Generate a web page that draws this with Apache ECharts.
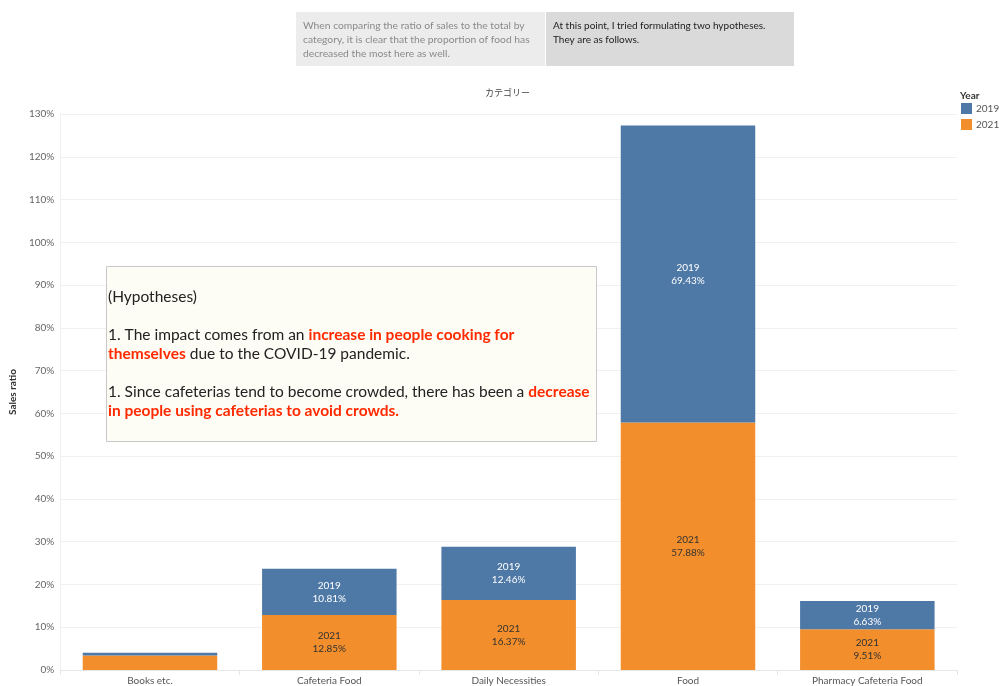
<!DOCTYPE html>
<html><head><meta charset="utf-8">
<script src="https://cdn.jsdelivr.net/npm/echarts@6/dist/echarts.min.js"></script>
<style>html,body{margin:0;padding:0;background:#fff}#c{width:999px;height:686px}</style>
</head><body><div id="c"></div>
<script>
const categories = ['Books etc.', 'Cafeteria Food', 'Daily Necessities', 'Food', 'Pharmacy Cafeteria Food'];
const values2021 = [3.39, 12.85, 16.37, 57.88, 9.51];
const values2019 = [0.67, 10.81, 12.46, 69.43, 6.63];
const yTicks = [0, 130, 10];
const FONT = 'Lato, "Open Sans", sans-serif';

const chart = echarts.init(document.getElementById('c'));
function lbl(year, color) {
  return {
    show: true, position: 'inside', color: color, fontSize: 10, lineHeight: 13, fontFamily: FONT,
    formatter: p => p.dataIndex === 0 ? '' : year + '\n' + p.value.toFixed(2) + '%'
  };
}
chart.setOption({
  animation: false,
  textStyle: {fontFamily: FONT},
  grid: {left: 58, right: 42, top: 114, bottom: 14},
  legend: {
    orient: 'vertical', left: 961, top: 103, padding: 0, itemWidth: 11, itemHeight: 11, itemGap: 5,
    icon: 'rect', data: ['2019', '2021'],
    textStyle: {fontSize: 10, color: '#555', padding: [0, 0, 0, -1]}
  },
  xAxis: {
    type: 'category', data: categories,
    axisLine: {show: true, lineStyle: {color: '#e6e6e6'}},
    axisTick: {show: true, length: 5, lineStyle: {color: '#e6e6e6'}},
    axisLabel: {fontSize: 10, color: '#555', margin: 6}
  },
  yAxis: {
    type: 'value', min: yTicks[0], max: yTicks[1], interval: yTicks[2],
    name: 'Sales ratio', nameLocation: 'middle', nameGap: 40, nameRotate: 90,
    nameTextStyle: {fontSize: 10, fontWeight: 'bold', color: '#333'},
    axisLine: {show: true, lineStyle: {color: '#f0f0f0'}},
    axisTick: {show: false},
    axisLabel: {formatter: '{value}%', fontSize: 10, color: '#666', margin: 6},
    splitLine: {lineStyle: {color: '#f0f0f0'}}
  },
  series: [
    {name: '2021', type: 'bar', stack: 's', data: values2021, barWidth: '75%',
     itemStyle: {color: '#f28e2b'}, label: lbl('2021', '#333')},
    {name: '2019', type: 'bar', stack: 's', data: values2019, barWidth: '75%',
     itemStyle: {color: '#4e79a7'}, label: lbl('2019', '#fff')}
  ],
  graphic: [
    {type: 'rect', z: 100, shape: {x: 296, y: 12, width: 249, height: 54}, style: {fill: '#ececec'}},
    {type: 'rect', z: 100, shape: {x: 546, y: 12, width: 248, height: 54}, style: {fill: '#dadada'}},
    {type: 'text', z: 101, left: 303, top: 19, style: {
      text: 'When comparing the ratio of sales to the total by\ncategory, it is clear that the proportion of food has\ndecreased the most here as well.',
      fontSize: 10.3, lineHeight: 14, fill: '#8a8a8a', fontFamily: FONT}},
    {type: 'text', z: 101, left: 553, top: 19, style: {
      text: 'At this point, I tried formulating two hypotheses.\nThey are as follows.',
      fontSize: 10, lineHeight: 14, fill: '#222', fontFamily: FONT}},
    {type: 'text', z: 101, left: 485, top: 88, style: {text: 'カテゴリー', fontSize: 9, fill: '#444', fontFamily: '"Noto Sans CJK JP", sans-serif'}},
    {type: 'text', z: 101, left: 960, top: 91, style: {text: 'Year', fontSize: 10, fontWeight: 'bold', fill: '#333', fontFamily: FONT}},
    {type: 'rect', z: 100, shape: {x: 106.5, y: 266.5, width: 490, height: 175}, style: {fill: '#fefdf5', stroke: '#c8c8c8', lineWidth: 1}},
    {type: 'text', z: 101, left: 108, top: 289, style: {
      text: '{n|(Hypotheses)}\n{n| }\n{n|1. The impact comes from an }{r|increase in people cooking for}\n{r|themselves}{n| due to the COVID-19 pandemic.}\n{n| }\n{n|1. Since cafeterias tend to become crowded, there has been a }{r|decrease}\n{r|in people using cafeterias to avoid crowds.}',
      rich: {
        n: {fontSize: 15.5, lineHeight: 19, fill: '#222', fontFamily: FONT},
        r: {fontSize: 15.5, lineHeight: 19, fill: '#ff2a00', fontWeight: 'bold', fontFamily: FONT}
      }}}
  ]
});
</script></body></html>
